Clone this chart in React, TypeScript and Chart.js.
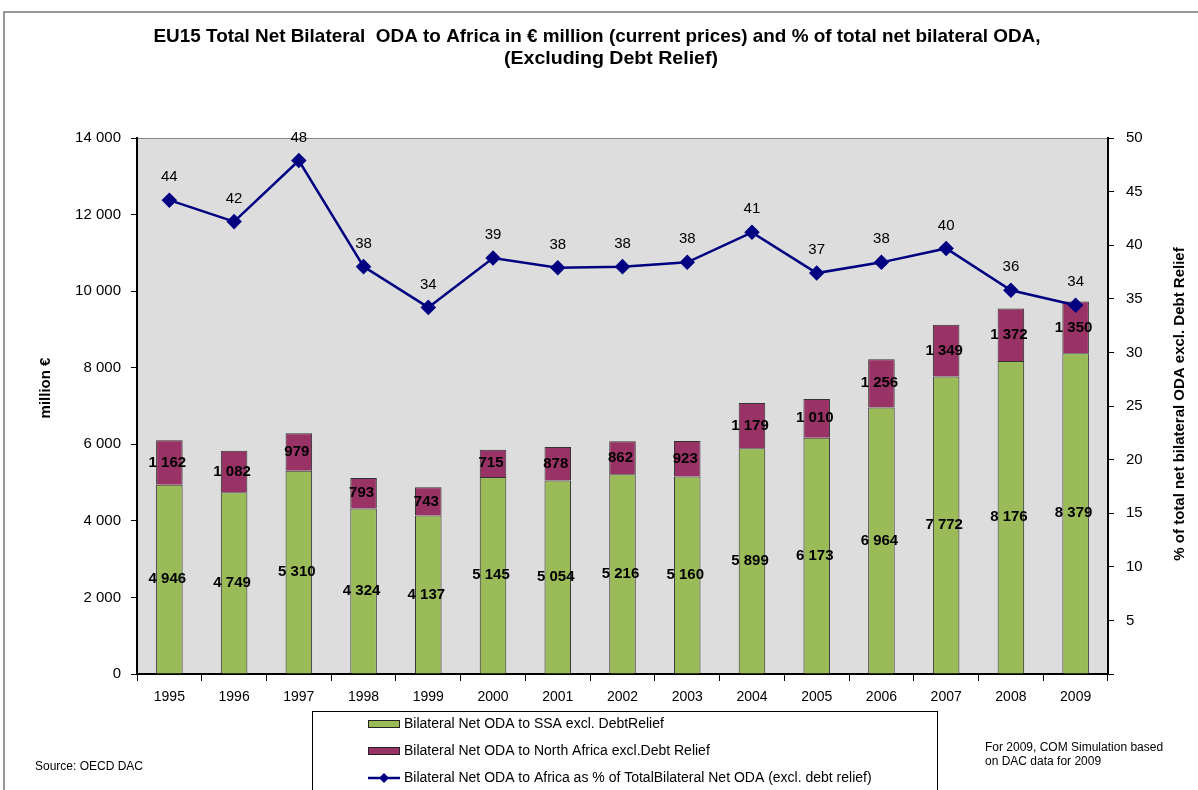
import React, { useEffect, useRef } from "react";
import { Chart, registerables } from "chart.js";

Chart.register(...registerables);

const years = ["1995","1996","1997","1998","1999","2000","2001","2002","2003","2004","2005","2006","2007","2008","2009"];
const ssa = [4946, 4749, 5310, 4324, 4137, 5145, 5054, 5216, 5160, 5899, 6173, 6964, 7772, 8176, 8379];
const northAfrica = [1162, 1082, 979, 793, 743, 715, 878, 862, 923, 1179, 1010, 1256, 1349, 1372, 1350];
const pctAfrica = [44.2, 42.2, 47.9, 38.0, 34.2, 38.8, 37.9, 38.0, 38.4, 41.2, 37.4, 38.4, 39.7, 35.8, 34.4];

const titleLines = [
  "EU15 Total Net Bilateral  ODA to Africa in € million (current prices) and % of total net bilateral ODA,",
  "(Excluding Debt Relief)",
];
const leftAxisTitle = "million €";
const rightAxisTitle = "% of total net bilateral ODA excl. Debt Relief";
const legendLabels = [
  "Bilateral Net ODA to SSA excl. DebtRelief",
  "Bilateral Net ODA to North Africa excl.Debt Relief",
  "Bilateral Net ODA to Africa as % of TotalBilateral Net ODA (excl. debt relief)",
];
const sourceNote = "Source: OECD DAC";
const simNote = ["For 2009, COM Simulation based", "on DAC data for 2009"];

const GREEN = "#9BBB59";
const MAROON = "#993366";
const NAVY = "#000080";
const FONT = "'Liberation Sans', Arial, sans-serif";

const fmt = (n: number) => String(Math.round(n)).replace(/\B(?=(\d{3})+(?!\d))/g, " ");

function drawFitted(ctx: CanvasRenderingContext2D, text: string, cx: number, cy: number, width: number) {
  const w = ctx.measureText(text).width;
  const s = width / w;
  ctx.save();
  ctx.translate(cx, cy);
  ctx.scale(s, 1);
  ctx.textAlign = "center";
  ctx.textBaseline = "middle";
  ctx.fillText(text, 0, 0);
  ctx.restore();
}

const decorPlugin = {
  id: "decor",
  beforeDraw(chart: any) {
    const { ctx, chartArea: a } = chart;
    ctx.save();
    ctx.fillStyle = "#ffffff";
    ctx.fillRect(0, 0, chart.width, chart.height);
    ctx.strokeStyle = "#777777";
    ctx.lineWidth = 1.5;
    ctx.strokeRect(4, 12, 1300, 900);
    ctx.fillStyle = "#DDDDDD";
    ctx.fillRect(a.left, a.top, a.right - a.left, a.bottom - a.top);
    ctx.strokeStyle = "#888888";
    ctx.lineWidth = 1;
    ctx.strokeRect(a.left + 0.5, a.top + 0.5, a.right - a.left - 1, a.bottom - a.top - 1);
    ctx.restore();
  },
  afterDatasetsDraw(chart: any) {
    const { ctx } = chart;
    ctx.save();
    ctx.fillStyle = "#000";
    ctx.textAlign = "center";
    ctx.textBaseline = "middle";
    [0, 1].forEach((di) => {
      const meta = chart.getDatasetMeta(di);
      const data = chart.data.datasets[di].data as number[];
      ctx.font = `bold 15px ${FONT}`;
      meta.data.forEach((el: any, i: number) => {
        const { x, y, base } = el.getProps(["x", "y", "base"], true);
        ctx.fillText(fmt(data[i]), x - 2, (y + base) / 2);
      });
    });
    const lm = chart.getDatasetMeta(2);
    const ld = chart.data.datasets[2].data as number[];
    ctx.font = `15px ${FONT}`;
    lm.data.forEach((el: any, i: number) => {
      ctx.fillText(String(Math.round(ld[i])), el.x, el.y - 23);
    });
    ctx.restore();
  },
  afterDraw(chart: any) {
    const { ctx, chartArea: a } = chart;
    ctx.save();
    ctx.fillStyle = "#000";
    // title
    ctx.font = `bold 19px ${FONT}`;
    drawFitted(ctx, titleLines[0], 597, 37, 887);
    drawFitted(ctx, titleLines[1], 611, 59, 214);
    // axis titles
    ctx.font = `bold 15px ${FONT}`;
    ctx.save();
    ctx.translate(46, (a.top + a.bottom) / 2 - 18);
    ctx.rotate(-Math.PI / 2);
    ctx.textAlign = "center";
    ctx.textBaseline = "middle";
    ctx.fillText(leftAxisTitle, 0, 0);
    ctx.restore();
    ctx.save();
    ctx.translate(1180, (a.top + a.bottom) / 2 - 2);
    ctx.rotate(-Math.PI / 2);
    ctx.textAlign = "center";
    ctx.textBaseline = "middle";
    ctx.fillText(rightAxisTitle, 0, 0);
    ctx.restore();
    // legend box
    ctx.strokeStyle = "#000";
    ctx.lineWidth = 1;
    ctx.strokeRect(312.5, 711.5, 625, 120);
    const ds = chart.data.datasets;
    const rows = [724, 751, 778];
    ctx.font = `14px ${FONT}`;
    ctx.textAlign = "left";
    ctx.textBaseline = "middle";
    rows.forEach((ry, i) => {
      const d = ds[i];
      if (i < 2) {
        ctx.fillStyle = d.backgroundColor;
        ctx.fillRect(368, ry - 4, 32, 8);
        ctx.strokeStyle = "#222";
        ctx.strokeRect(368.5, ry - 3.5, 31, 7);
      } else {
        ctx.strokeStyle = d.borderColor;
        ctx.lineWidth = 2.5;
        ctx.beginPath();
        ctx.moveTo(368, ry);
        ctx.lineTo(400, ry);
        ctx.stroke();
        ctx.fillStyle = d.borderColor;
        ctx.beginPath();
        ctx.moveTo(384, ry - 5);
        ctx.lineTo(389, ry);
        ctx.lineTo(384, ry + 5);
        ctx.lineTo(379, ry);
        ctx.closePath();
        ctx.fill();
        ctx.lineWidth = 1;
      }
      ctx.fillStyle = "#000";
      ctx.fillText(legendLabels[i], 404, ry);
    });
    // notes
    ctx.font = `12px ${FONT}`;
    ctx.fillText(sourceNote, 35, 767);
    ctx.fillText(simNote[0], 985, 748);
    ctx.fillText(simNote[1], 985, 762);
    ctx.restore();
  },
};

export default function App() {
  const ref = useRef<HTMLCanvasElement | null>(null);
  useEffect(() => {
    if (!ref.current) return;
    const chart = new Chart(ref.current, {
      type: "bar",
      data: {
        labels: years,
        datasets: [
          {
            type: "bar",
            label: legendLabels[0],
            data: ssa,
            backgroundColor: GREEN,
            borderColor: "#333333",
            borderWidth: 1,
            barPercentage: 0.41,
            categoryPercentage: 1,
            yAxisID: "y",
            stack: "a",
            order: 1,
          },
          {
            type: "bar",
            label: legendLabels[1],
            data: northAfrica,
            backgroundColor: MAROON,
            borderColor: "#333333",
            borderWidth: 1,
            barPercentage: 0.41,
            categoryPercentage: 1,
            yAxisID: "y",
            stack: "a",
            order: 2,
          },
          {
            type: "line",
            label: legendLabels[2],
            data: pctAfrica,
            borderColor: NAVY,
            backgroundColor: NAVY,
            borderWidth: 2.5,
            pointStyle: "rectRot",
            pointRadius: 6,
            pointBackgroundColor: NAVY,
            pointBorderColor: NAVY,
            tension: 0,
            yAxisID: "y1",
            order: 0,
          } as any,
        ],
      },
      options: {
        responsive: false,
        animation: false,
        layout: { padding: { top: 138, left: 0, right: 0, bottom: 0 } },
        plugins: {
          legend: { display: false },
          title: { display: false },
          tooltip: { enabled: false },
        },
        scales: {
          x: {
            stacked: true,
            offset: true,
            grid: { offset: true, drawOnChartArea: false, drawTicks: true, tickLength: 7, color: "#000", lineWidth: 1 },
            border: { color: "#000", width: 2 },
            ticks: { color: "#000", font: { family: FONT, size: 14 }, padding: 8, maxRotation: 0 },
            afterFit: (s: any) => { s.height = 790 - 674; },
          },
          y: {
            stacked: true,
            position: "left",
            min: 0,
            max: 14000,
            grid: { drawOnChartArea: false, drawTicks: true, tickLength: 6, color: "#000" },
            border: { color: "#000", width: 2 },
            ticks: { stepSize: 2000, color: "#000", font: { family: FONT, size: 15 }, padding: 10, callback: (v: any) => fmt(Number(v)) },
            afterFit: (s: any) => { s.width = 137; },
          },
          y1: {
            position: "right",
            min: 0,
            max: 50,
            grid: { drawOnChartArea: false, drawTicks: true, tickLength: 6, color: "#000" },
            border: { color: "#000", width: 2 },
            ticks: { stepSize: 5, color: "#000", font: { family: FONT, size: 15 }, padding: 12, callback: (v: any) => (Number(v) === 0 ? "" : String(v)) },
            afterFit: (s: any) => { s.width = 1198 - 1108; },
          },
        },
      } as any,
      plugins: [decorPlugin],
    });
    return () => chart.destroy();
  }, []);
  return (
    <div style={{ position: "absolute", left: 0, top: 0, width: 1198, height: 790, background: "#fff" }}>
      <canvas ref={ref} width={1198} height={790} style={{ display: "block" }} />
    </div>
  );
}
